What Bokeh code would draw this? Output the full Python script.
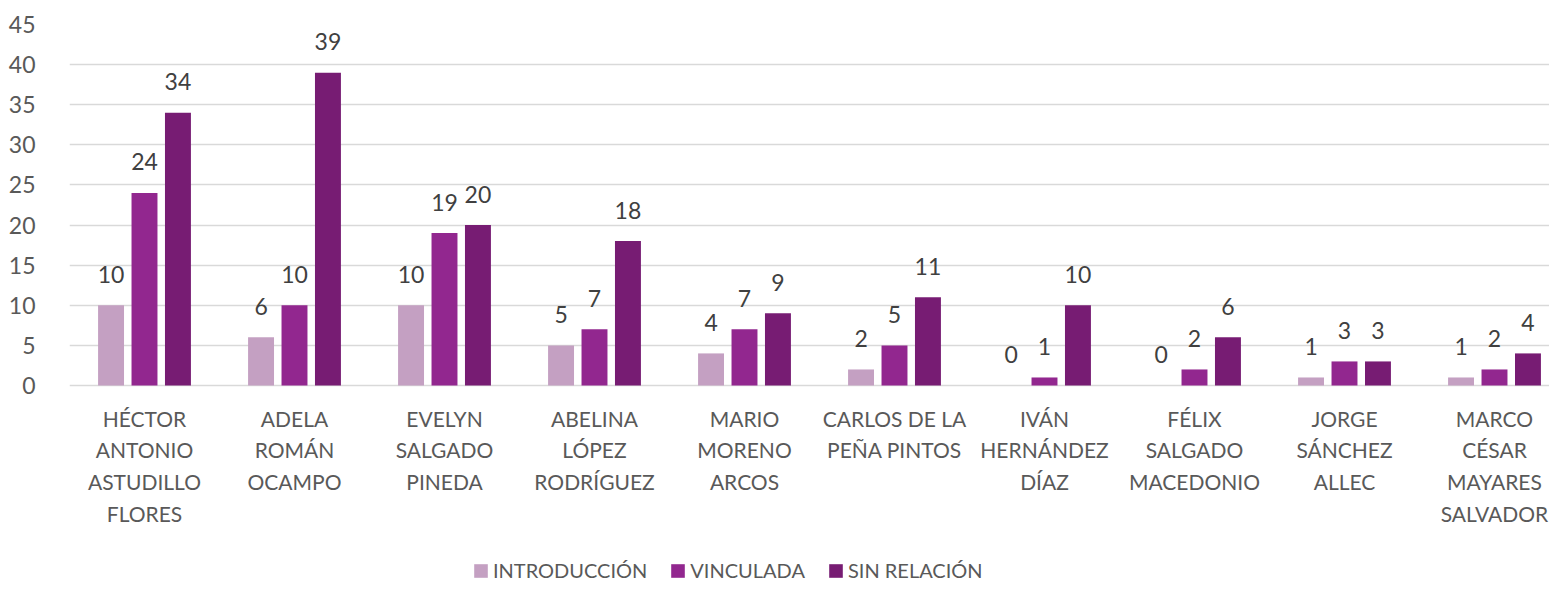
from bokeh.plotting import figure
from bokeh.models import ColumnDataSource, Range1d, FixedTicker, Legend, LegendItem
from bokeh.embed import file_html
from bokeh.resources import INLINE
from bokeh.core.properties import value
from bokeh.transform import dodge

categories = [
    "HÉCTOR\nANTONIO\nASTUDILLO\nFLORES",
    "ADELA\nROMÁN\nOCAMPO",
    "EVELYN\nSALGADO\nPINEDA",
    "ABELINA\nLÓPEZ\nRODRÍGUEZ",
    "MARIO\nMORENO\nARCOS",
    "CARLOS DE LA\nPEÑA PINTOS",
    "IVÁN\nHERNÁNDEZ\nDÍAZ",
    "FÉLIX\nSALGADO\nMACEDONIO",
    "JORGE\nSÁNCHEZ\nALLEC",
    "MARCO\nCÉSAR\nMAYARES\nSALVADOR",
]
introduccion = [10, 6, 10, 5, 4, 2, 0, 0, 1, 1]
vinculada = [24, 10, 19, 7, 7, 5, 1, 2, 3, 2]
sin_relacion = [34, 39, 20, 18, 9, 11, 10, 6, 3, 4]
series_names = ["INTRODUCCIÓN", "VINCULADA", "SIN RELACIÓN"]
colors = ["#C4A0C2", "#92278F", "#771C73"]
y_ticks = [0, 5, 10, 15, 20, 25, 30, 35, 40, 45]

FONT = "Lato"
xpos = [i + 0.5 for i in range(len(categories))]
src = ColumnDataSource(dict(
    x=xpos,
    cat=categories,
    zero=[0] * len(categories),
    intro=introduccion, vinc=vinculada, sinr=sin_relacion,
    intro_t=[str(v) for v in introduccion],
    vinc_t=[str(v) for v in vinculada],
    sinr_t=[str(v) for v in sin_relacion],
))

H = 582
frame_top, zero_px = 24, 385
ppu = (zero_px - frame_top) / 45.0
y_bottom = -(H - zero_px) / ppu

p = figure(width=1549, height=H, output_backend="svg", toolbar_location=None,
           x_range=Range1d(0, 1480 / 150), y_range=Range1d(y_bottom, 45),
           min_border_left=69, min_border_right=0, min_border_top=frame_top,
           min_border_bottom=0)
p.outline_line_color = None
p.background_fill_color = "white"
p.xaxis.visible = False

offsets = [-0.223, 0.0, 0.223]
fields = ["intro", "vinc", "sinr"]
renderers = []
for off, f, c in zip(offsets, fields, colors):
    r = p.vbar(x=dodge("x", off), top=f, bottom=0, width=0.173, source=src,
               fill_color=c, line_color=None)
    renderers.append(r)
    p.text(x=dodge("x", off), y=f, text=f + "_t", source=src,
           text_align="center", text_baseline="middle", y_offset=-31,
           text_font=value(FONT), text_font_size="23px", text_color="#404040")

# category labels
p.text(x="x", y="zero", text="cat", source=src, text_align="center",
       text_baseline="top", y_offset=20, text_line_height=1.27,
       text_font=value(FONT), text_font_size="21px", text_color="#595959")

# y axis
p.yaxis.ticker = FixedTicker(ticks=y_ticks)
p.yaxis.axis_line_color = None
p.yaxis.major_tick_line_color = None
p.yaxis.minor_tick_line_color = None
p.yaxis.major_label_text_font = FONT
p.yaxis.major_label_text_font_size = "23px"
p.yaxis.major_label_text_color = "#595959"
p.yaxis.major_label_standoff = 28

p.xgrid.grid_line_color = None
p.ygrid.ticker = FixedTicker(ticks=y_ticks)
p.ygrid.grid_line_color = "#D9D9D9"
p.ygrid.grid_line_width = 1.5

legend = Legend(items=[LegendItem(label=n, renderers=[r]) for n, r in zip(series_names, renderers)],
                orientation="horizontal", location=(403, 0),
                glyph_width=17, glyph_height=17, label_standoff=4, spacing=22,
                padding=0, margin=0, border_line_color=None, background_fill_alpha=0,
                label_text_font=FONT, label_text_font_size="20px", label_text_color="#595959")
p.add_layout(legend, "center")

open("out.html", "w").write(file_html(p, INLINE))
